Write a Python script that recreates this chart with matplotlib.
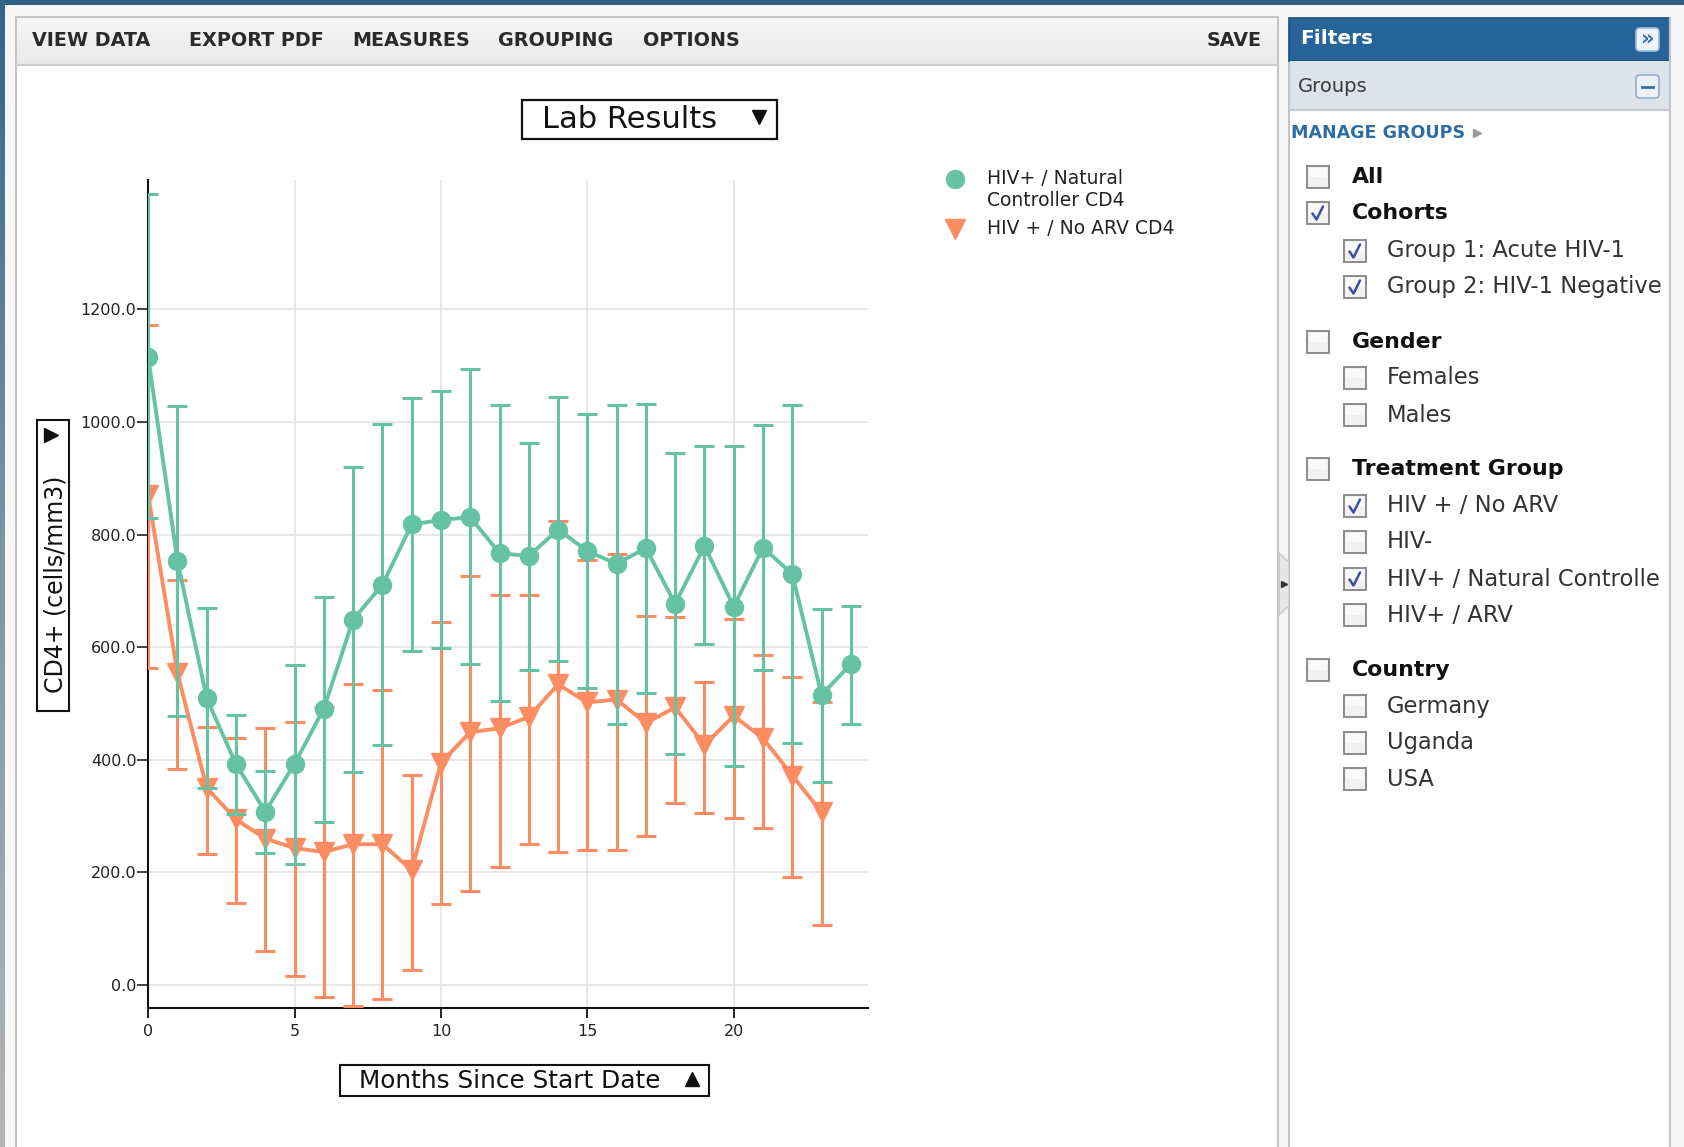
import matplotlib
matplotlib.use("Agg")
import matplotlib.pyplot as plt
import numpy as np
from matplotlib.patches import Rectangle, Polygon, FancyBboxPatch
from matplotlib.colors import LinearSegmentedColormap

plt.rcParams['font.family'] = ['DejaVu Sans']

# ---------------- data ----------------
months_nc = [0, 1, 2, 3, 4, 5, 6, 7, 8, 9, 10, 11, 12, 13, 14, 15, 16, 17, 18, 19, 20, 21, 22, 23, 24]
cd4_nc = [1115, 753, 509, 392, 308, 393, 491, 649, 711, 818, 826, 831, 767, 762, 809, 771, 748, 776, 677, 780, 672, 777, 730, 515, 570]
nc_upper = [1405, 1029, 670, 479, 380, 568, 690, 920, 997, 1043, 1055, 1094, 1031, 963, 1044, 1014, 1030, 1032, 945, 957, 958, 994, 1030, 667, 673]
nc_lower = [829, 478, 350, 304, 234, 215, 290, 378, 427, 593, 598, 570, 505, 560, 576, 528, 463, 519, 411, 605, 389, 559, 429, 361, 463]

months_na = [0, 1, 2, 3, 4, 5, 6, 7, 8, 9, 10, 11, 12, 13, 14, 15, 16, 17, 18, 19, 20, 21, 22, 23]
cd4_na = [870, 554, 350, 294, 260, 243, 236, 250, 250, 204, 395, 449, 456, 476, 534, 502, 507, 465, 493, 426, 478, 438, 372, 307]
na_upper = [1173, 720, 459, 438, 456, 467, 493, 534, 524, 373, 645, 727, 693, 693, 825, 755, 766, 655, 653, 538, 650, 587, 547, 503]
na_lower = [563, 384, 233, 146, 60, 15, -22, -38, -25, 26, 143, 166, 210, 250, 237, 239, 239, 265, 324, 306, 297, 279, 191, 107]

series_labels = ["HIV+ / Natural\nController CD4", "HIV + / No ARV CD4"]
y_ticks = [0, 200, 400, 600, 800, 1000, 1200]
x_ticks = [0, 5, 10, 15, 20]
toolbar_items = ["VIEW DATA", "EXPORT PDF", "MEASURES", "GROUPING", "OPTIONS"]
filter_items = [
    ("All", 0, False), ("Cohorts", 0, True),
    ("Group 1: Acute HIV-1", 1, True), ("Group 2: HIV-1 Negative", 1, True),
    ("Gender", 0, False), ("Females", 1, False), ("Males", 1, False),
    ("Treatment Group", 0, False), ("HIV + / No ARV", 1, True), ("HIV-", 1, False),
    ("HIV+ / Natural Controller", 1, True), ("HIV+ / ARV", 1, False),
    ("Country", 0, False), ("Germany", 1, False), ("Uganda", 1, False), ("USA", 1, False),
]
filter_y = [177, 213, 251, 287, 342, 378, 415, 469, 506, 542, 579, 615, 670, 706, 743, 779]

GREEN = '#66c2a5'
ORANGE = '#fc8d62'

W, H = 1684, 1147
fig = plt.figure(figsize=(W / 100, H / 100), dpi=100)
fig.patch.set_facecolor('#f7f7f7')
bg = fig.add_axes([0, 0, 1, 1], zorder=0)
bg.set_xlim(0, W)
bg.set_ylim(H, 0)
bg.axis('off')

# window frame
bg.add_patch(Rectangle((0, 0), W, 5, color='#2f5f84', lw=0))
grad = np.linspace(0, 1, 200).reshape(-1, 1)
cm_left = LinearSegmentedColormap.from_list('l', ['#33658a', '#7f97aa', '#b4b4b4'])
bg.imshow(grad, cmap=cm_left, extent=(0, 5, H, 0), aspect='auto', zorder=1)

# main panel
bg.add_patch(Rectangle((16, 17), 1262, 1140, fc='white', ec='#c4c4c4', lw=1.5, zorder=1))
cm_tb = LinearSegmentedColormap.from_list('t', ['#f6f6f6', '#e9e9e9'])
bg.imshow(grad, cmap=cm_tb, extent=(17, 1277, 65, 18), aspect='auto', zorder=2)
bg.plot([17, 1277], [65, 65], color='#cdcdcd', lw=1.5, zorder=3)

tb_x = [32, 189, 352, 498, 643]
for lab, x in zip(toolbar_items, tb_x):
    bg.text(x, 41, lab, fontsize=13.8, fontweight='bold', color='#2a2a2a', ha='left', va='center', zorder=4)
bg.text(1262, 41, "SAVE", fontsize=13.8, fontweight='bold', color='#2a2a2a', ha='right', va='center', zorder=4)

# Lab Results dropdown
bg.add_patch(Rectangle((522, 100), 255, 39, fc='white', ec='#111111', lw=1.6, zorder=3))
bg.text(542, 120, "Lab Results", fontsize=22, color='#111111', ha='left', va='center', zorder=4)
bg.plot([759], [117], marker='v', color='#111111', ms=10, zorder=4)

# y label box
bg.add_patch(Rectangle((37, 420), 32, 291, fc='white', ec='#111111', lw=1.5, zorder=3))
bg.plot([51], [435], marker='>', color='#111111', ms=10, zorder=4)
bg.text(55, 693, "CD4+ (cells/mm3)", fontsize=17, color='#111111', rotation=90,
        rotation_mode='anchor', ha='left', va='center', zorder=4)

# x label box
bg.add_patch(Rectangle((340, 1065), 369, 31, fc='white', ec='#111111', lw=1.5, zorder=3))
bg.text(359, 1081, "Months Since Start Date", fontsize=17.8, color='#111111', ha='left', va='center', zorder=4)
bg.plot([692], [1079], marker='^', color='#111111', ms=10, zorder=4)

# legend
bg.plot([955], [179], marker='o', color=GREEN, ms=13, mec=GREEN, zorder=4)
bg.plot([955], [229], marker='v', color=ORANGE, ms=14, mec=ORANGE, zorder=4)
bg.text(987, 179, "HIV+ / Natural", fontsize=13.5, color='#222222', ha='left', va='center', zorder=4)
bg.text(987, 201, "Controller CD4", fontsize=13.5, color='#222222', ha='left', va='center', zorder=4)
bg.text(987, 229, series_labels[1], fontsize=13.5, color='#222222', ha='left', va='center', zorder=4)

# splitter
bg.add_patch(Polygon([(1279, 553), (1279, 615), (1289, 606), (1289, 562)], closed=True,
                     fc='#e6e6e6', ec='#c8c8c8', lw=1, zorder=3))
bg.plot([1283.5], [584], marker='>', color='#333333', ms=5, zorder=4)

# right panel
bg.add_patch(Rectangle((1289, 18), 381, 1140, fc='white', ec='#c4c4c4', lw=1.5, zorder=1))
bg.add_patch(Rectangle((1289, 18), 381, 43, fc='#27649a', ec='#1f5584', lw=1.2, zorder=2))
bg.text(1300, 39, "Filters", fontsize=14.5, fontweight='bold', color='white', ha='left', va='center', zorder=4)
bg.add_patch(FancyBboxPatch((1636, 28), 23, 23, boxstyle='round,pad=0,rounding_size=4',
                            fc='#eef4fb', ec='#9fbbd8', lw=1.2, zorder=3))
bg.text(1647.5, 38.5, "\u00bb", fontsize=15, fontweight='bold', color='#3a6ea5', ha='center', va='center', zorder=4)

bg.add_patch(Rectangle((1290, 61), 379, 49, fc='#dde3e9', ec='none', lw=0, zorder=2))
bg.plot([1290, 1669], [110, 110], color='#c4cad0', lw=1.5, zorder=3)
bg.text(1298, 86, "Groups", fontsize=14, color='#3a3a3a', ha='left', va='center', zorder=4)
bg.add_patch(FancyBboxPatch((1636, 75), 23, 23, boxstyle='round,pad=0,rounding_size=4',
                            fc='#edf3fa', ec='#8fb0d2', lw=1.2, zorder=3))
bg.plot([1642, 1653], [86.5, 86.5], color='#3a6ea5', lw=2, zorder=4)

bg.text(1291, 133, "MANAGE GROUPS", fontsize=12.6, fontweight='bold', color='#2e6da4', ha='left', va='center', zorder=4)
bg.plot([1477], [133], marker='>', color='#9a9a9a', ms=6, zorder=4)

for (lab, lvl, chk), y in zip(filter_items, filter_y):
    bx = 1307 if lvl == 0 else 1344
    tx = 1352 if lvl == 0 else 1387
    bg.add_patch(Rectangle((bx, y - 11), 22, 22, fc='#f1f1f1', ec='#8c8c8c', lw=1.4, zorder=3))
    bg.add_patch(Rectangle((bx + 2, y - 9), 18, 9, fc='#fafafa', ec='none', lw=0, zorder=3))
    if chk:
        bg.plot([bx + 5.5, bx + 9.5, bx + 16], [y + 0.5, y + 6.5, y - 6.5], color='#3f4fa6', lw=1.8, zorder=4,
                solid_capstyle='round')
    if lvl == 0:
        bg.text(tx, y, lab, fontsize=15.8, fontweight='bold', color='#111111', ha='left', va='center', zorder=4)
    else:
        bg.text(tx, y, lab, fontsize=16.3, color='#333333', ha='left', va='center', zorder=4)

# mask overflowing filter text at the panel edge
bg.add_patch(Rectangle((1661, 112), 8.2, 1035, fc='white', ec='none', lw=0, zorder=6))
bg.add_patch(Rectangle((1671, 10), W - 1671, H, fc='#f7f7f7', ec='none', lw=0, zorder=6))
bg.plot([1670, 1670], [18, H], color='#c4c4c4', lw=1.5, zorder=7)

# ---------------- chart ----------------
ax_l, ax_r, ax_t, ax_b = 148.2, 867.8, 180, 1008
ax = fig.add_axes([ax_l / W, (H - ax_b) / H, (ax_r - ax_l) / W, (ax_b - ax_t) / H], zorder=5)
ax.set_facecolor('none')
ax.set_xlim(0, 24.58)
ax.set_ylim(-41, 1430)

nc = np.array(cd4_nc, float)
na = np.array(cd4_na, float)
ax.errorbar(months_na, na, yerr=[na - np.array(na_lower), np.array(na_upper) - na],
            color=ORANGE, lw=2.8, marker='v', ms=14, mec=ORANGE, mfc=ORANGE,
            elinewidth=2.2, capsize=7.2, capthick=2.2, zorder=3)
ax.errorbar(months_nc, nc, yerr=[nc - np.array(nc_lower), np.array(nc_upper) - nc],
            color=GREEN, lw=2.8, marker='o', ms=13, mec=GREEN, mfc=GREEN,
            elinewidth=2.2, capsize=7.2, capthick=2.2, zorder=4)

ax.set_yticks(y_ticks)
ax.set_yticklabels([f"{v:.1f}" for v in y_ticks])
ax.set_xticks(x_ticks)
ax.set_xticklabels([str(v) for v in x_ticks])
ax.grid(True, color='#e2e2e2', lw=1.1, zorder=0)
ax.set_axisbelow(True)
for s in ['top', 'right']:
    ax.spines[s].set_visible(False)
for s in ['left', 'bottom']:
    ax.spines[s].set_color('#111111')
    ax.spines[s].set_linewidth(1.5)
ax.tick_params(axis='y', length=7.6, width=1.1, pad=0.8, labelsize=11.5, labelcolor='#222222', color='#111111')
ax.tick_params(axis='x', length=7.2, width=1.3, pad=4.5, labelsize=11.5, labelcolor='#222222', color='#111111')

fig.savefig('out.png', dpi=100, facecolor=fig.get_facecolor())
